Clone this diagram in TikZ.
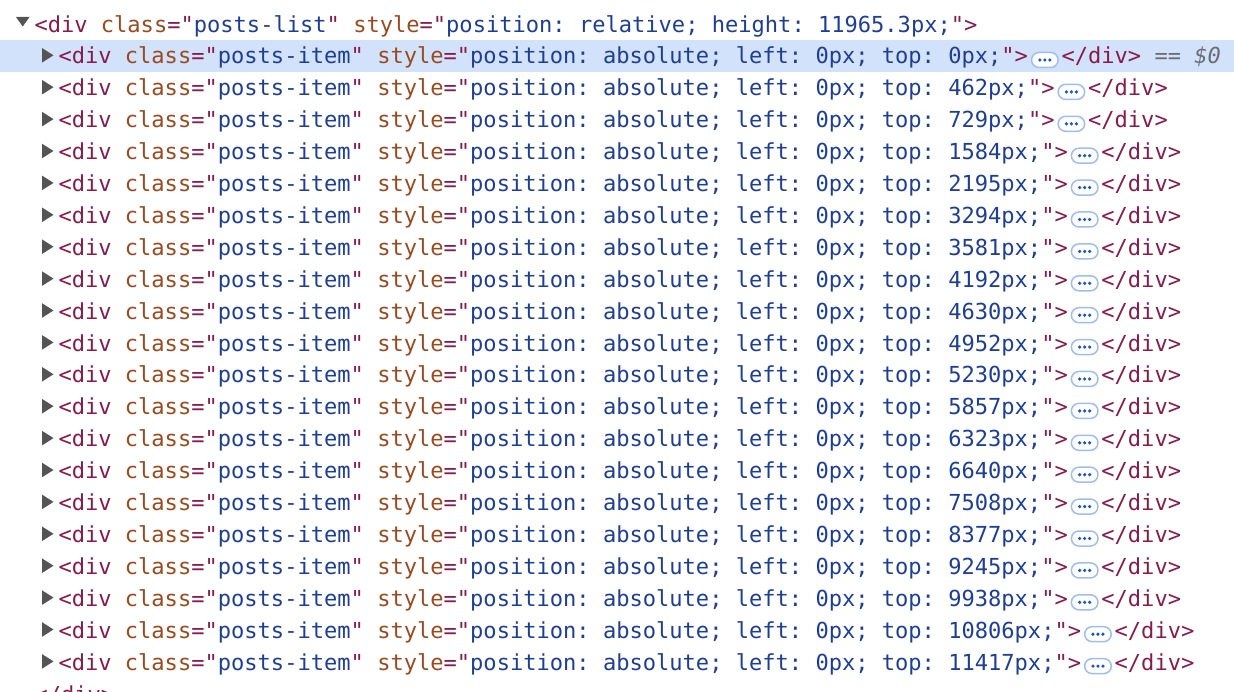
\documentclass[tikz,border=0pt]{standalone}
\usepackage{fontspec}
\setmonofont{DejaVu Sans Mono}
\usetikzlibrary{calc}
\definecolor{tagc}{HTML}{881A4C}
\definecolor{attrc}{HTML}{9A4A1F}
\definecolor{valc}{HTML}{1E3E96}
\definecolor{grayc}{HTML}{6A6E73}
\definecolor{hlc}{HTML}{D3E2FB}
\definecolor{tric}{HTML}{545454}
\definecolor{badgeborder}{HTML}{9FBDF3}
\definecolor{dotc}{HTML}{1A56C8}
\newcommand{\tgc}[1]{\textcolor{tagc}{#1}}
\newcommand{\atc}[1]{\textcolor{attrc}{#1}}
\newcommand{\vac}[1]{\textcolor{valc}{#1}}
\begin{document}
\begin{tikzpicture}[x=1pt,y=-1pt,
  every node/.style={inner sep=0pt, outer sep=0pt},
  code/.style={anchor=base west, font=\ttfamily\fontsize{22.06}{26}\selectfont},
  badge/.style={draw=badgeborder, fill=white, line width=1.5pt, minimum width=26.6pt, minimum height=15pt, rounded corners=7.5pt},
  tri/.style={fill=tric}]
\useasboundingbox (0,0) rectangle (1234,692);
\fill[hlc] (0,40) rectangle (1234,72);
% parent row
\fill[tri] (16,17) -- (29.5,17) -- (22.75,26.5) -- cycle;
\node[code] (r0) at (34.5,32.1) {\tgc{<div} \atc{class}\tgc{="}\vac{posts-list}\tgc{"} \atc{style}\tgc{="}\vac{position: relative; height: 11965.3px;}\tgc{">}};
% child rows
\foreach \t [count=\i] in {0,462,729,1584,2195,3294,3581,4192,4630,4952,5230,5857,6323,6640,7508,8377,9245,9938,10806,11417} {
  \pgfmathsetmacro\yb{32.1+31.9*\i}
  \fill[tri] (42,\yb-16) -- (42,\yb-1.4) -- (53.5,\yb-8.7) -- cycle;
  \node[code] (r\i) at (58.5,\yb) {\tgc{<div} \atc{class}\tgc{="}\vac{posts-item}\tgc{"} \atc{style}\tgc{="}\vac{position: absolute; left: 0px; top: {\t}px;}\tgc{">}};
  \node[badge] (b\i) at ($(r\i.base east)+(16.8,-4)$) {};
  \fill[dotc] ($(b\i.center)+(-5,0)$) circle (1.8) (b\i.center) circle (1.8) ($(b\i.center)+(5,0)$) circle (1.8);
  \node[code] (c\i) at ($(r\i.base east)+(33.5,0)$) {\tgc{</div>}};
}
\node[code, text=grayc] (d1) at ($(c1.base east)+(13.28,0)$) {== {\itshape\$0}};
\node[code] (end) at (34.5,702) {\tgc{</div>}};
\end{tikzpicture}
\end{document}
